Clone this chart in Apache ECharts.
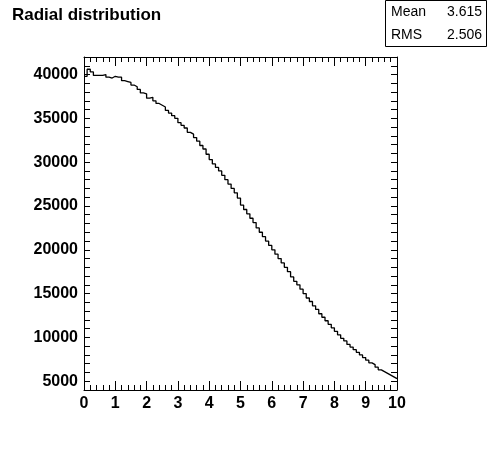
<!DOCTYPE html>
<html>
<head>
<meta charset="utf-8">
<script src="https://cdn.jsdelivr.net/npm/echarts@6/dist/echarts.min.js"></script>
<style>
  html, body { margin: 0; padding: 0; background: #fff; }
  #chart { width: 496px; height: 472px; }
</style>
</head>
<body>
<div id="chart"></div>
<script>
// bin contents, 100 bins of width 0.1 from 0 to 10
const binWidth = 0.1;
const counts = [
  39800, 40600, 40300, 39900, 39900, 39900, 40000, 39700, 39600, 39800,
  39700, 39700, 39300, 39200, 39100, 38800, 38600, 38300, 37900, 37800,
  37300, 37400, 37000, 36700, 36500, 36300, 35900, 35600, 35300, 35000,
  34500, 34200, 33900, 33400, 33200, 32800, 32400, 31900, 31500, 30900,
  30300, 29800, 29400, 29000, 28500, 28000, 27500, 27000, 26500, 25900,
  25100, 24600, 24100, 23600, 23100, 22500, 22000, 21500, 21000, 20500,
  20000, 19500, 19000, 18500, 18000, 17500, 16900, 16400, 16000, 15500,
  15000, 14500, 14100, 13600, 13200, 12700, 12300, 11900, 11500, 11100,
  10700, 10300, 9900, 9600, 9200, 8900, 8600, 8300, 8000, 7700,
  7400, 7100, 6900, 6600, 6300, 6100, 5900, 5700, 5500, 5300
];
const yLabelStep = 5000;
const statNames = ['Mean', 'RMS'];
const statValues = ['3.615', '2.506'];

const font = '"Liberation Sans", Arial, sans-serif';
const pts = counts.map((c, i) => [+(i * binWidth).toFixed(2), c]);
pts.push([10, counts[counts.length - 1]]);

function xAxis(pos, labels) {
  return {
    type: 'value', position: pos, min: 0, max: 10, interval: 1,
    axisLine: { show: true, onZero: false, lineStyle: { color: '#000' } },
    axisTick: { show: true, inside: true, length: 9, lineStyle: { color: '#000' } },
    minorTick: { show: true, splitNumber: 5, length: 5, lineStyle: { color: '#000' } },
    splitLine: { show: false },
    axisLabel: { show: labels, color: '#000', fontFamily: font, fontWeight: 'bold', fontSize: 16, margin: 6 }
  };
}
function yAxis(pos, labels) {
  return {
    type: 'value', position: pos, min: 4000, max: 42000, interval: 1000,
    axisLine: { show: true, onZero: false, lineStyle: { color: '#000' } },
    axisTick: { show: true, inside: true, length: 6, lineStyle: { color: '#000' } },
    splitLine: { show: false },
    axisLabel: {
      show: labels, color: '#000', fontFamily: font, fontWeight: 'bold', fontSize: 16, margin: 6,
      formatter: v => (v % yLabelStep === 0 ? String(v) : '')
    }
  };
}

const chart = echarts.init(document.getElementById('chart'));
chart.setOption({
  backgroundColor: '#fff',
  animation: false,
  grid: { left: 84, right: 99, top: 57, bottom: 82 },
  xAxis: [xAxis('bottom', true), xAxis('top', false)],
  yAxis: [yAxis('left', true), yAxis('right', false)],
  series: [{
    type: 'line', step: 'end', data: pts, symbol: 'none',
    lineStyle: { color: '#000', width: 1.3 }
  }],
  graphic: [
    { type: 'text', left: 12, top: 7,
      style: { text: 'Radial distribution', font: 'bold 17px ' + font, fill: '#000' } },
    { type: 'rect', shape: { x: 385.5, y: 0.5, width: 101, height: 46 },
      style: { fill: '#fff', stroke: '#000', lineWidth: 1 } },
    ...statNames.flatMap((n, i) => [
      { type: 'text', left: 391, top: 5 + i * 23, style: { text: n, font: '14px ' + font, fill: '#000' } },
      { type: 'text', right: 14, top: 5 + i * 23, style: { text: statValues[i], font: '14px ' + font, fill: '#000' } }
    ])
  ]
});
</script>
</body>
</html>
